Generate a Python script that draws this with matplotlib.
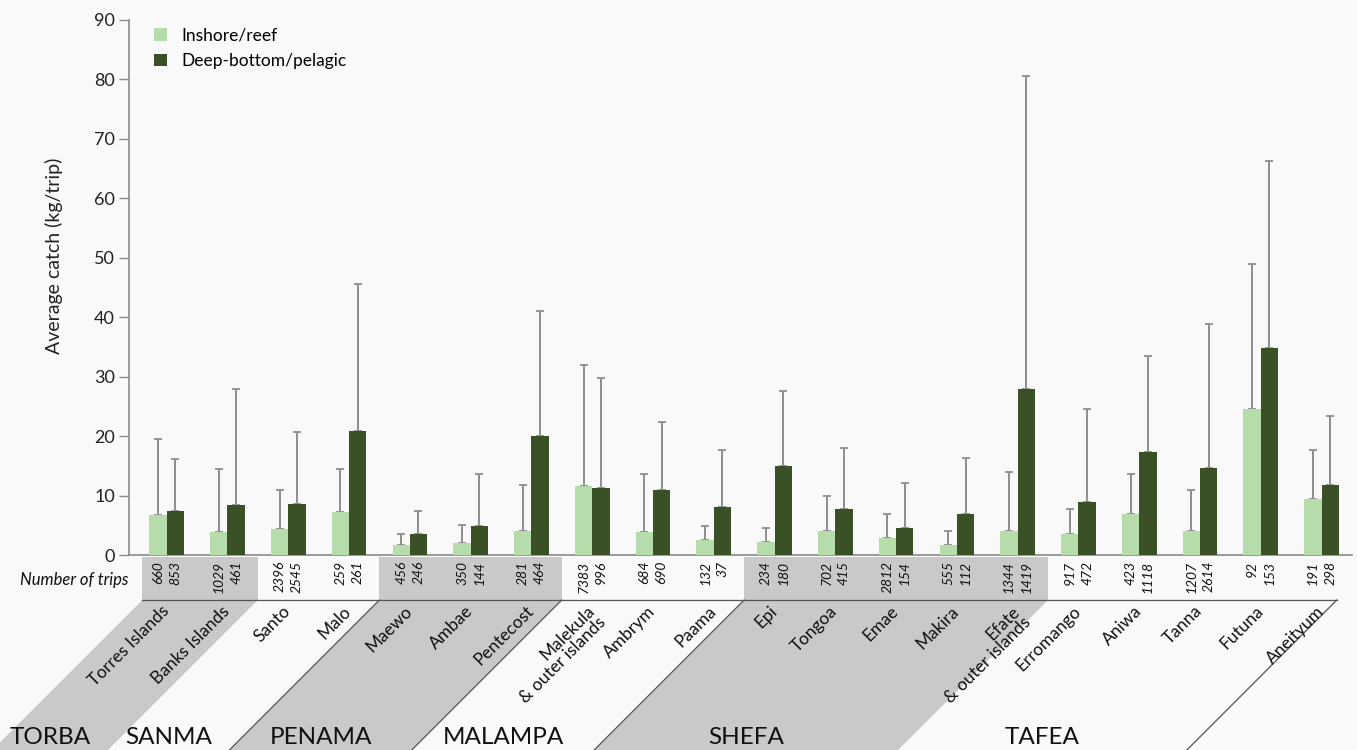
import numpy as np
import matplotlib
matplotlib.use("Agg")
import matplotlib.pyplot as plt
from matplotlib.patches import Polygon, Rectangle

# === Data ===
islands = ["Torres Islands", "Banks Islands", "Santo", "Malo", "Maewo", "Ambae",
           "Pentecost", "Malekula\n& outer islands", "Ambrym", "Paama", "Epi",
           "Tongoa", "Emae", "Makira", "Efate\n& outer islands", "Erromango",
           "Aniwa", "Tanna", "Futuna", "Aneityum"]
provinces = ["TORBA", "SANMA", "PENAMA", "MALAMPA", "SHEFA", "TAFEA"]
islands_per_province = [2, 2, 3, 3, 5, 5]

inshore_mean = [6.8, 3.9, 4.4, 7.2, 1.6, 2.1, 4.0, 11.6, 3.8, 2.5,
                2.2, 4.0, 2.9, 1.7, 4.1, 3.5, 6.9, 4.0, 24.6, 9.4]
inshore_top = [19.5, 14.5, 11.0, 14.5, 3.6, 5.0, 11.7, 32.0, 13.6, 4.8,
               4.5, 9.9, 6.9, 4.1, 13.9, 7.8, 13.7, 10.9, 49.0, 17.7]
deep_mean = [7.4, 8.4, 8.6, 20.8, 3.5, 4.8, 20.0, 11.3, 10.9, 8.0,
             15.0, 7.8, 4.5, 6.9, 27.9, 8.9, 17.4, 14.6, 34.8, 11.7]
deep_top = [16.2, 28.0, 20.7, 45.6, 7.4, 13.6, 41.1, 29.8, 22.4, 17.7,
            27.6, 18.0, 12.1, 16.4, 80.6, 24.6, 33.5, 38.8, 66.2, 23.3]

trips_inshore = [660, 1029, 2396, 259, 456, 350, 281, 7383, 684, 132,
                 234, 702, 2812, 555, 1344, 917, 423, 1207, 92, 191]
trips_deep = [853, 461, 2545, 261, 246, 144, 464, 996, 690, 37,
              180, 415, 154, 112, 1419, 472, 1118, 2614, 153, 298]

# === Style ===
W, H = 1357, 750
BG = "#f9f9f9"
LIGHT = "#b6dcab"
DARK = "#3a5127"
BAND = "#c9c9c9"
LINE = "#555555"
plt.rcParams["font.family"] = ["Lato", "DejaVu Sans"]

fig = plt.figure(figsize=(W / 100, H / 100), dpi=100, facecolor=BG)
ax = fig.add_axes([129 / W, 195 / H, (1352 - 129) / W, 535 / H], zorder=2)
ax.set_facecolor(BG)

x = np.arange(len(islands))
bw = 0.285
xi = x - bw / 2
xd = x + bw / 2

ax.bar(xi, inshore_mean, bw, color=LIGHT, label="Inshore/reef", zorder=3)
ax.bar(xd, deep_mean, bw, color=DARK, label="Deep-bottom/pelagic", zorder=3)

for xs, mean, top in [(xi, inshore_mean, inshore_top), (xd, deep_mean, deep_top)]:
    mean = np.array(mean)
    upper = np.array(top) - mean
    _, caps, _ = ax.errorbar(xs, mean, yerr=[np.zeros_like(mean), upper], fmt="none",
                             ecolor="#8e8e8e", elinewidth=1.4, capsize=2.6,
                             capthick=1.3, zorder=2)
    for c in caps:
        c.set_color("#505050")

ax.set_xlim(-0.62, 19.5)
ax.set_ylim(0, 90)
ax.set_yticks(range(0, 91, 10))
ax.set_xticks([])
ax.tick_params(axis="y", length=7, width=1, color="#8a8a8a", labelsize=13,
               labelcolor="#222222", pad=3)
for s in ["top", "right"]:
    ax.spines[s].set_visible(False)
for s in ["left", "bottom"]:
    ax.spines[s].set_color("#8a8a8a")
    ax.spines[s].set_linewidth(1.2)
ax.set_ylabel("Average catch (kg/trip)", fontsize=14, color="#222222")
ax.yaxis.set_label_coords(-0.054, 0.56)

ax.legend(loc="upper left", bbox_to_anchor=(0.008, 1.015), frameon=False,
          fontsize=12.5, handlelength=0.75, handleheight=0.75,
          handletextpad=0.8, labelspacing=0.55)

# === Lower panel: trip counts, island names, provinces (pixel coordinates) ===
low = fig.add_axes([0, 0, 1, 1], zorder=1)
low.set_xlim(0, W)
low.set_ylim(H, 0)
low.axis("off")


def px(v):
    return ax.transData.transform((v, 0))[0]


row_top, row_bot = 557, 600
slant = H - row_bot

starts = np.cumsum([0] + islands_per_province)
edges = [px(s - 0.5) for s in starts]
edges[0] = px(-0.4)
edges[-1] = px(19.25)

for k, name in enumerate(provinces):
    left, right = edges[k], edges[k + 1]
    if k % 2 == 0:
        low.add_patch(Rectangle((left, row_top), right - left, row_bot - row_top,
                                facecolor=BAND, edgecolor="none"))
        low.add_patch(Polygon([(left, row_bot), (right, row_bot),
                               (right - slant, H), (left - slant, H)],
                              closed=True, facecolor=BAND, edgecolor="none"))
    low.text((left + right) / 2 - slant, 738, name, ha="center", va="center",
             fontsize=17.5, color="#111111")

low.plot([edges[0], edges[-1]], [row_bot, row_bot], color=LINE, lw=0.9)
for k in [2, 3, 4, 6]:
    low.plot([edges[k], edges[k] - slant], [row_bot, H], color=LINE, lw=0.9)

low.text(128, 580, "Number of trips", ha="right", va="center", fontsize=12,
         style="italic", color="#111111")

for i, name in enumerate(islands):
    low.text(px(xi[i]), 561, str(trips_inshore[i]), rotation=90, ha="right",
             va="center", rotation_mode="anchor", fontsize=10, style="italic",
             color="#111111")
    low.text(px(xd[i]), 561, str(trips_deep[i]), rotation=90, ha="right",
             va="center", rotation_mode="anchor", fontsize=10, style="italic",
             color="#111111")
    low.text(px(i) - 6, 603, name, rotation=45, ha="right", va="top",
             rotation_mode="anchor", fontsize=12.5, color="#111111",
             multialignment="right", linespacing=1.0)

fig.savefig("out.png", dpi=100, facecolor=BG)
